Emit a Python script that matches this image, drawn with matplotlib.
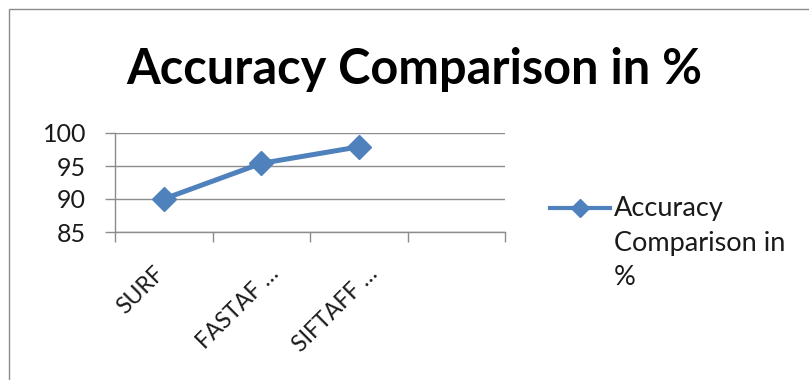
import matplotlib
matplotlib.use("Agg")
import matplotlib.pyplot as plt
from matplotlib.lines import Line2D
from matplotlib.patches import Rectangle
from matplotlib.transforms import ScaledTranslation, blended_transform_factory

# Chart data
categories = ["SURF", "FASTAF \u2026", "SIFTAFF \u2026", ""]
accuracy = [90, 95.4, 97.9]
series_name = "Accuracy\nComparison in\n%"
title = "Accuracy Comparison in %"
y_ticks = [85, 90, 95, 100]

W, H = 809, 380
DPI = 100
blue = "#4F81BD"
grid_gray = "#8C8C8C"
text_col = "#1a1a1a"
font = "Lato"

fig = plt.figure(figsize=(W / DPI, H / DPI), dpi=DPI)
fig.patch.set_facecolor("white")

# Outer chart frame
fig.add_artist(Rectangle((9 / W, -0.05), 1.2, (H - 9) / H + 0.05,
                         transform=fig.transFigure, fill=False,
                         edgecolor="#8A8A8A", lw=1.0))

left, right = 115 / W, 505 / W
bottom, top = 1 - 232 / H, 1 - 133 / H
ax = fig.add_axes([left, bottom, right - left, top - bottom])

x = list(range(len(accuracy)))
ax.plot(x, accuracy, color=blue, lw=3.6, marker="D", markersize=12,
        markerfacecolor=blue, markeredgecolor=blue, solid_capstyle="round",
        clip_on=False)

ax.set_xlim(-0.5, len(categories) - 0.5)
ax.set_ylim(85, 100)
ax.set_yticks(y_ticks)
ax.yaxis.grid(True, color=grid_gray, lw=1.0)
ax.set_axisbelow(True)

# Category boundaries carry the tick marks
ax.set_xticks([i - 0.5 for i in range(len(categories) + 1)])
ax.set_xticklabels([])
ax.tick_params(axis="x", which="major", length=7, color=grid_gray,
               direction="out", width=1.0)
ax.tick_params(axis="y", length=7.5, color=grid_gray, width=1.0, pad=13.4,
               labelsize=18, labelcolor=text_col)
for lbl in ax.get_yticklabels():
    lbl.set_family(font)

# Rotated category labels: box centred a little left of each category,
# tops level just below the axis
cat_trans = blended_transform_factory(ax.transData, ax.transAxes) + \
    ScaledTranslation(-23 / DPI, -31 / DPI, fig.dpi_scale_trans)
for i, name in enumerate(categories):
    ax.text(i, 0, name, transform=cat_trans, rotation=45,
            ha="center", va="top",
            fontsize=16.5, family=font, color=text_col, clip_on=False)

for side in ("top", "right"):
    ax.spines[side].set_visible(False)
for side in ("left", "bottom"):
    ax.spines[side].set_color(grid_gray)
    ax.spines[side].set_linewidth(1.0)

fig.text(0.512, 1 - 69 / H, title, ha="center", va="center",
         fontsize=35, fontweight="bold", family=font, color="black")

# Legend entry
ly = 1 - 208 / H
fig.add_artist(Line2D([550 / W, 610 / W], [ly, ly], transform=fig.transFigure,
                      color=blue, lw=3.0))
fig.add_artist(Line2D([580 / W], [ly], transform=fig.transFigure,
                      color=blue, marker="D", markersize=9, lw=0))
fig.text(614 / W, 1 - 243 / H, series_name, ha="left", va="center",
         fontsize=19.5, family=font, color=text_col, linespacing=1.46)

fig.savefig("out.png", dpi=DPI)
